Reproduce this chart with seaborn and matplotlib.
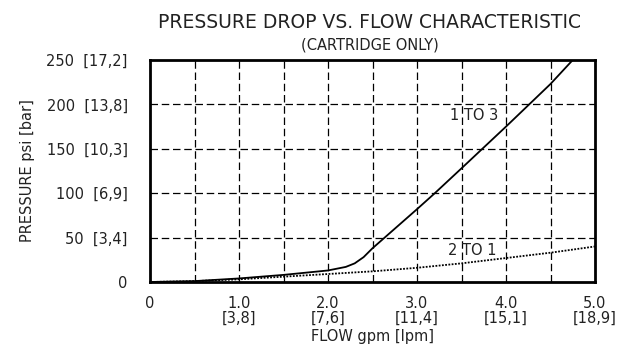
import numpy as np
import pandas as pd
import matplotlib
matplotlib.use("Agg")
import matplotlib.pyplot as plt
import seaborn as sns

# curve readings (gpm, psi)
flow_1to3 = [0.0, 0.5, 1.0, 1.5, 2.0, 2.2, 2.3, 2.4, 2.5, 3.0, 3.2, 3.5, 4.0, 4.5, 4.75]
psi_1to3 = [0, 1, 4, 8, 13, 17, 21, 28, 38, 82, 100, 128, 175, 223, 250]

flow_2to1 = [0.0, 0.5, 1.0, 1.5, 2.0, 2.5, 3.0, 3.5, 4.0, 4.5, 5.0]
psi_2to1 = [0, 1, 3, 6, 9, 12, 16, 21, 27, 33, 40]

x_ticks = [0, 1.0, 2.0, 3.0, 4.0, 5.0]
x_labels = ["0", "1.0\n[3,8]", "2.0\n[7,6]", "3.0\n[11,4]", "4.0\n[15,1]", "5.0\n[18,9]"]
y_ticks = [0, 50, 100, 150, 200, 250]
y_labels = ["0", "50  [3,4]", "100  [6,9]", "150  [10,3]", "200  [13,8]", "250  [17,2]"]

sns.set_style("white")
plt.rcParams['font.family'] = ['DejaVu Sans']
txt = "#222222"

fig = plt.figure(figsize=(6.35, 3.58), dpi=100)
ax = fig.add_axes([150 / 635, 1 - 282 / 358, 445 / 635, 222 / 358])

df1 = pd.DataFrame({"flow": flow_1to3, "psi": psi_1to3})
df2 = pd.DataFrame({"flow": flow_2to1, "psi": psi_2to1})
sns.lineplot(data=df1, x="flow", y="psi", ax=ax, color="black", lw=1.3, zorder=3)
sns.lineplot(data=df2, x="flow", y="psi", ax=ax, color="black", lw=1.3,
             linestyle=(0, (1, 0.8)), zorder=3)

ax.set_xlim(0, 5)
ax.set_ylim(0, 250)
for v in np.arange(0.5, 5.0, 0.5):
    ax.axvline(v, color="black", lw=0.9, ls=(0, (6, 3)), zorder=1)
for v in [50, 100, 150, 200]:
    ax.axhline(v, color="black", lw=0.9, ls=(0, (6, 3)), zorder=1)
for s in ax.spines.values():
    s.set_linewidth(2)
    s.set_color("black")

ax.set_xticks(x_ticks)
ax.set_xticklabels(x_labels, fontsize=10.5, color=txt, linespacing=1.0)
ax.set_yticks(y_ticks)
ax.set_yticklabels(y_labels, fontsize=10.5, color=txt)
ax.tick_params(axis="x", length=0, pad=10)
ax.tick_params(axis="y", length=0, pad=16)
ax.set_xlabel("FLOW gpm [lpm]", fontsize=10.5, color=txt, labelpad=2)
ax.set_ylabel("PRESSURE psi [bar]", fontsize=10.5, color=txt, labelpad=8)

ax.text(3.64, 188, "1 TO 3", fontsize=10.5, color=txt, ha="center", va="center")
ax.text(3.62, 36, "2 TO 1", fontsize=10.5, color=txt, ha="center", va="center")

fig.text(370 / 635, 1 - 22 / 358, "PRESSURE DROP VS. FLOW CHARACTERISTIC",
         fontsize=13.5, color=txt, ha="center", va="center")
fig.text(370 / 635, 1 - 45 / 358, "(CARTRIDGE ONLY)",
         fontsize=10.5, color=txt, ha="center", va="center")

fig.savefig("out.png", dpi=100)
